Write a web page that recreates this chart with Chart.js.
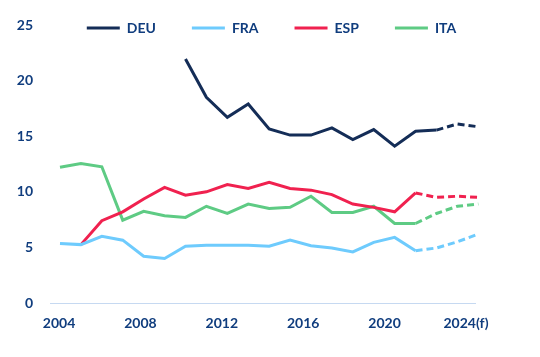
<!DOCTYPE html>
<html>
<head>
<meta charset="utf-8">
<script src="https://cdn.jsdelivr.net/npm/chart.js@4.4.1/dist/chart.umd.min.js"></script>
<style>
  html, body { margin: 0; padding: 0; background: #ffffff; }
  #wrap { width: 540px; height: 357px; position: relative; }
</style>
</head>
<body>
<div id="wrap"><canvas id="c"></canvas></div>
<script>
// ---- data ----
const years = [2004, 2005, 2006, 2007, 2008, 2009, 2010, 2011, 2012, 2013, 2014,
               2015, 2016, 2017, 2018, 2019, 2020, 2021, 2022, 2023, 2024];
const deu = [null, null, null, null, null, null, 21.95, 18.5, 16.7, 17.9, 15.65,
             15.1, 15.1, 15.75, 14.7, 15.6, 14.1, 15.45, 15.55, 16.1, 15.85];
const fra = [5.35, 5.25, 6.0, 5.65, 4.2, 4.0, 5.1, 5.2, 5.2, 5.2, 5.1,
             5.65, 5.15, 4.95, 4.6, 5.45, 5.9, 4.7, 4.95, 5.5, 6.2];
const esp = [null, 5.25, 7.4, 8.2, 9.35, 10.4, 9.7, 10.0, 10.65, 10.3, 10.85,
             10.3, 10.15, 9.75, 8.9, 8.6, 8.2, 9.9, 9.5, 9.6, 9.5];
const ita = [12.2, 12.55, 12.25, 7.45, 8.25, 7.85, 7.7, 8.7, 8.05, 8.9, 8.5,
             8.6, 9.6, 8.15, 8.15, 8.7, 7.15, 7.15, 8.05, 8.7, 8.9];
// first year of the forecast (dashed) segment for each series
const forecastFrom = { DEU: 2022, FRA: 2021, ESP: 2021, ITA: 2021 };
const tickYears = [2004, 2008, 2012, 2016, 2020, 2024];
const tickLabels = ['2004', '2008', '2012', '2016', '2020', '2024(f)'];
const yTicks = [0, 5, 10, 15, 20, 25];

// ---- styles ----
const TEXT = '#103d7e';
const FONT = { family: 'Lato, "Open Sans", sans-serif', size: 14, weight: 'bold' };
const colors = { DEU: '#142d57', FRA: '#6ecbfd', ESP: '#f0214f', ITA: '#5ecb84' };

function makeSet(name, vals) {
  const start = years.indexOf(forecastFrom[name]);
  return {
    label: name,
    data: years.map((y, i) => ({ x: y, y: vals[i] })),
    borderColor: colors[name],
    backgroundColor: colors[name],
    borderWidth: 3,
    pointRadius: 0,
    pointHoverRadius: 0,
    tension: 0,
    spanGaps: false,
    clip: false,
    borderCapStyle: 'butt',
    borderJoinStyle: 'miter',
    segment: {
      borderDash: ctx => (ctx.p0DataIndex >= start ? [7, 4] : undefined)
    }
  };
}

// legend takes no layout space; it is moved onto the plot area (as in the reference)
const legendOverlay = {
  id: 'legendOverlay',
  beforeUpdate(chart) {
    const lg = chart.legend;
    if (lg && !lg._overlayPatched) {
      const orig = lg.fit.bind(lg);
      lg.fit = function () { orig(); this.height = 0; };
      lg._overlayPatched = true;
    }
  },
  afterLayout(chart) {
    const lg = chart.legend;
    if (!lg) return;
    const dy = 28 - (lg.top + 36 + 7);
    const dx = 34;
    lg.top += dy;
    lg.left += dx; lg.right += dx;
    lg.bottom = lg.top + 80;
  }
};

new Chart(document.getElementById('c'), {
  type: 'line',
  data: {
    datasets: [
      makeSet('DEU', deu),
      makeSet('FRA', fra),
      makeSet('ESP', esp),
      makeSet('ITA', ita)
    ]
  },
  plugins: [legendOverlay],
  options: {
    responsive: true,
    maintainAspectRatio: false,
    animation: false,
    devicePixelRatio: 1,
    layout: { padding: { top: 10, right: 65, bottom: 0, left: 0 } },
    plugins: {
      tooltip: { enabled: false },
      legend: {
        position: 'top',
        align: 'center',
        labels: {
          color: TEXT,
          font: FONT,
          boxWidth: 33,
          boxHeight: 3,
          padding: 36,
          generateLabels(chart) {
            return chart.data.datasets.map((ds, i) => ({
              text: ds.label,
              fillStyle: ds.borderColor,
              strokeStyle: ds.borderColor,
              lineWidth: 0,
              fontColor: TEXT,
              hidden: false,
              datasetIndex: i
            }));
          }
        }
      }
    },
    scales: {
      x: {
        type: 'linear',
        display: false,
        min: 2003.522,
        max: 2023.842
      },
      xLab: {
        type: 'linear',
        position: 'bottom',
        min: 2003.557,
        max: 2024.443,
        afterBuildTicks: s => { s.ticks = tickYears.map(v => ({ value: v })); },
        afterFit: s => { s.height = 54; },
        grid: { display: false, drawTicks: false },
        border: { display: true, color: '#c6d9f1', width: 1 },
        ticks: {
          color: TEXT,
          font: FONT,
          padding: 12,
          maxRotation: 0,
          autoSkip: false,
          callback: v => tickLabels[tickYears.indexOf(v)]
        }
      },
      y: {
        type: 'linear',
        min: 0,
        max: 26.35,
        afterBuildTicks: s => { s.ticks = yTicks.map(v => ({ value: v })); },
        afterFit: s => { s.width = 50; s.paddingTop = 0; s.paddingBottom = 0; },
        grid: { display: false, drawTicks: false },
        border: { display: false },
        ticks: {
          color: TEXT,
          font: FONT,
          padding: 17
        }
      }
    }
  }
});
</script>
</body>
</html>
